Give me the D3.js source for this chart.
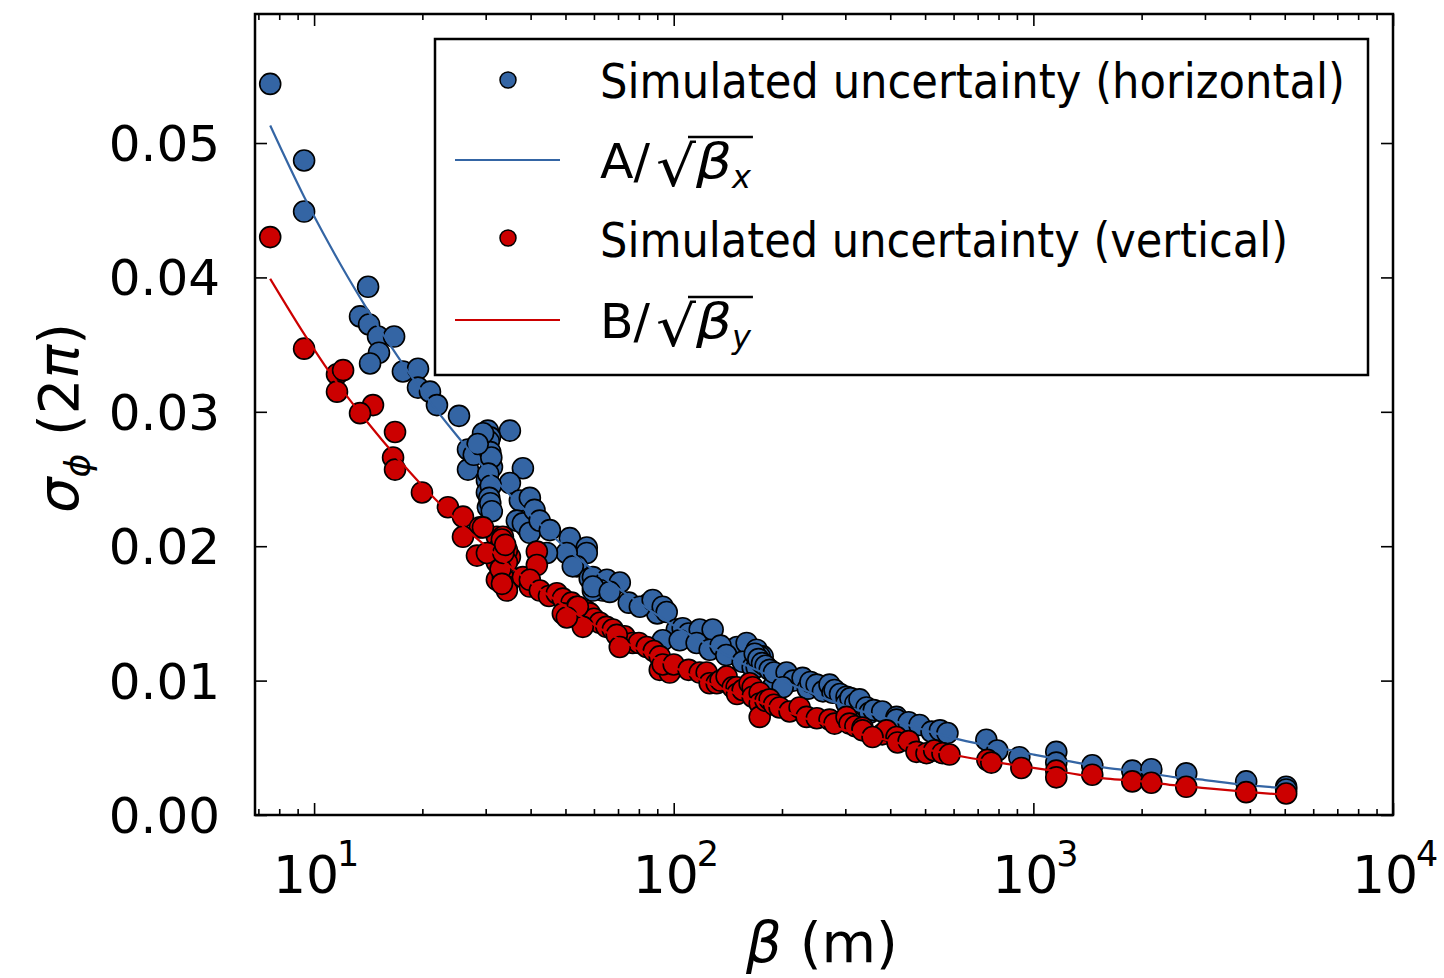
<!DOCTYPE html>
<html>
<head>
<meta charset="utf-8">
<script src="https://cdn.jsdelivr.net/npm/d3@7"></script>
<style>
  html, body { margin: 0; padding: 0; background: #fff; }
  svg { display: block; }
  text { font-family: "DejaVu Sans", sans-serif; fill: #000; }
</style>
</head>
<body>
<svg id="chart" width="1444" height="978"></svg>
<script>
// ---------------- data ----------------
const blueBeta = [7.55,9.38,9.38,14.13,13.42,14.22,15.06,16.69,15.15,14.31,17.66,19.45,19.45,21.0,21.96,25.29,30.43,35.03,26.79,30.24,30.83,30.83,26.79,31.23,38.07,30.24,35.03,30.24,30.43,37.34,36.63,39.06,27.8,30.6,30.9,31.1,30.5,31.0,30.7,30.9,31.2,29.5,28.5,39.81,38.07,39.81,41.0,42.4,45.24,51.4,57.3,57.3,50.4,44.4,53.8,52.4,58.4,59.6,65.2,70.8,63.5,59.6,59.6,66.4,75,85,90,80.5,87.4,93.2,95.6,102,93.2,105.9,110,120,118.1,128.3,103.9,115.8,125.9,143.1,145.9,150,135,140,159.5,155.5,170.1,176.7,173.4,165.8,170.1,168,172,176,180,184.8,188.4,190,206,215,228.2,200.9,236,240,249.6,260,271.2,276.5,280,290,302.4,302.4,310,320,328.6,343.6,350.3,360,380,416.4,416.4,450,482.5,521.1,550,576.9,740,794,914,1158,1158,1458,1884,2128,2661,3906,5046,5046];
const blueSigma = [0.0544,0.0487,0.0449,0.0393,0.0371,0.0365,0.0356,0.0356,0.0344,0.0336,0.0330,0.0332,0.0318,0.0315,0.0305,0.0297,0.0286,0.0286,0.0272,0.0274,0.0281,0.0264,0.0257,0.0259,0.0258,0.0249,0.0247,0.0240,0.0229,0.0234,0.0219,0.0214,0.0268,0.0278,0.0270,0.0266,0.0254,0.0245,0.0236,0.0232,0.0226,0.0284,0.0276,0.0236,0.0217,0.0210,0.0227,0.0219,0.0212,0.0206,0.0199,0.0195,0.0195,0.0195,0.0185,0.0185,0.0176,0.0177,0.0175,0.0173,0.0167,0.0167,0.0170,0.0166,0.0158,0.0157,0.0150,0.0155,0.0160,0.0155,0.0151,0.0138,0.0130,0.0139,0.0135,0.0133,0.0138,0.0138,0.0130,0.0128,0.0123,0.0123,0.0123,0.0125,0.0126,0.0119,0.0128,0.0114,0.0123,0.0118,0.0118,0.0110,0.0110,0.0120,0.0116,0.0113,0.0111,0.0108,0.0095,0.0106,0.0106,0.0100,0.0102,0.0095,0.0094,0.0099,0.0097,0.0092,0.0097,0.0091,0.0093,0.0090,0.0088,0.0083,0.0087,0.0083,0.0086,0.0080,0.0076,0.0078,0.0077,0.0073,0.0071,0.0069,0.0067,0.0062,0.0063,0.0061,0.0056,0.0048,0.0043,0.0047,0.0039,0.0037,0.0033,0.0034,0.0031,0.0025,0.0021,0.0019];

const redBeta = [7.55,9.38,11.58,12.04,11.58,14.58,13.42,16.79,16.58,16.79,19.95,23.56,25.94,28.92,25.94,28.37,32.23,32.23,32.23,33.50,33.50,32.86,35.03,34.36,38.07,39.81,29.48,33.28,34.36,30.24,34.36,34.36,33.0,33.6,34.0,33.3,41.63,41.63,39.81,42.44,45,47.32,49.17,52,53.79,49.17,57,58.44,60,62.30,55.87,65,67.70,73,76.91,80,84.14,88,54.12,50.44,69.45,70.79,91.44,91.44,97.47,93.2,100,110,118.1,123.5,125.9,131.7,135,140.3,145.9,149.6,150,155.5,162.6,165.8,165.8,173.4,173.4,173.4,180,184.8,190,197.0,210,223.9,234.1,250,271.2,280,302.4,308.3,320,335.0,335.0,380,390.6,357.1,416.4,419.1,450,473.2,504.6,530,558.8,584.5,745,764,926,1158,1158,1458,1884,2128,2661,3906,5046];
const redSigma = [0.0430,0.0347,0.0328,0.0331,0.0315,0.0305,0.0299,0.0285,0.0266,0.0257,0.0240,0.0229,0.0222,0.0214,0.0207,0.0193,0.0207,0.0188,0.0175,0.0207,0.0177,0.0199,0.0192,0.0170,0.0177,0.0170,0.0214,0.0205,0.0197,0.0195,0.0188,0.0167,0.0183,0.0195,0.0201,0.0172,0.0196,0.0186,0.0175,0.0167,0.0163,0.0165,0.0161,0.0158,0.0155,0.0150,0.0152,0.0150,0.0146,0.0143,0.0140,0.0140,0.0138,0.0133,0.0128,0.0128,0.0125,0.0122,0.0155,0.0147,0.0134,0.0125,0.0118,0.0108,0.0106,0.0112,0.0112,0.0108,0.0106,0.0106,0.0098,0.0098,0.0100,0.0103,0.0095,0.0095,0.0090,0.0093,0.0098,0.0095,0.0088,0.0091,0.0083,0.0073,0.0085,0.0086,0.0082,0.0080,0.0077,0.0080,0.0073,0.0072,0.0071,0.0068,0.0073,0.0068,0.0066,0.0065,0.0063,0.0060,0.0063,0.0058,0.0058,0.0054,0.0055,0.0047,0.0046,0.0048,0.0046,0.0045,0.0041,0.0039,0.0035,0.0033,0.0028,0.0030,0.0025,0.0024,0.0021,0.0017,0.0016];

// fit curves
const fitBeta = [7.55,9.38,11,12,14,17,20,25,30,40,50,65,80,100,120,160,200,250,300,400,500,650,800,1000,1200,1600,2000,2500,3000,4000,5046];
const fitBlue = [0.0513,0.0460,0.0425,0.0407,0.0377,0.0342,0.0315,0.0282,0.0257,0.0223,0.0199,0.0175,0.0158,0.0141,0.0129,0.0111,0.0100,0.0089,0.0081,0.0071,0.0063,0.0055,0.0050,0.0045,0.0041,0.0035,0.0032,0.0028,0.0026,0.0022,0.0020];
const fitRed = [0.0399,0.0358,0.0330,0.0316,0.0293,0.0266,0.0245,0.0219,0.0200,0.0173,0.0155,0.0136,0.0123,0.0110,0.0100,0.0087,0.0078,0.0069,0.0063,0.0055,0.0049,0.0043,0.0039,0.0035,0.0032,0.0027,0.0025,0.0022,0.0020,0.0017,0.0015];

const yTicks = [0.00,0.01,0.02,0.03,0.04,0.05];
const yTickLabels = ["0.00","0.01","0.02","0.03","0.04","0.05"];
const xTicks = [10,100,1000,10000];
const xTickExp = ["1","2","3","4"];
const legendLabels = ["Simulated uncertainty (horizontal)","Simulated uncertainty (vertical)"];

// ---------------- layout ----------------
const BLUE = "#3465a4", RED = "#cc0000";
const L = 255, R = 1393, T = 14, B = 815;
const svg = d3.select("#chart");
const x = d3.scaleLog().domain([6.85, 10000]).range([L, R]);
const y = d3.scaleLinear().domain([0, 0.0596]).range([B, T]);

const plot = svg.append("g");
plot.append("clipPath").attr("id","clip").append("rect")
  .attr("x",L).attr("y",T).attr("width",R-L).attr("height",B-T);

const blue = blueBeta.map((b,i)=>({b, s: blueSigma[i]}));
const red = redBeta.map((b,i)=>({b, s: redSigma[i]}));
const fb = fitBeta.map((b,i)=>({b, s: fitBlue[i]}));
const fr = fitBeta.map((b,i)=>({b, s: fitRed[i]}));
const line = d3.line().x(d=>x(d.b)).y(d=>y(d.s)).curve(d3.curveMonotoneX);

const g = plot.append("g").attr("clip-path","url(#clip)");
function dots(data, color){
  g.append("g").selectAll("circle").data(data).join("circle")
    .attr("cx", d=>x(d.b)).attr("cy", d=>y(d.s)).attr("r", 10.5)
    .attr("fill", color).attr("stroke","#000").attr("stroke-width",1.6);
}
dots(blue, BLUE);
g.append("path").datum(fb).attr("d", line).attr("fill","none").attr("stroke",BLUE).attr("stroke-width",2.2);
dots(red, RED);
g.append("path").datum(fr).attr("d", line).attr("fill","none").attr("stroke",RED).attr("stroke-width",2.2);

// ---------------- axes ----------------
const MAJ = 12, MIN = 6;
const axB = d3.axisBottom(x).tickValues(xTicks).tickSize(-MAJ).tickFormat("");
const axT = d3.axisTop(x).tickValues(xTicks).tickSize(-MAJ).tickFormat("");
const minors = [];
for (let e=0;e<4;e++) for (let m=2;m<=9;m++){ const v=m*Math.pow(10,e); if (v>6.85 && v<10000) minors.push(v); }
const axBm = d3.axisBottom(x).tickValues(minors).tickSize(-MIN).tickFormat("");
const axTm = d3.axisTop(x).tickValues(minors).tickSize(-MIN).tickFormat("");
const axL = d3.axisLeft(y).tickValues(yTicks).tickSize(-MAJ).tickFormat("");
const axR = d3.axisRight(y).tickValues(yTicks).tickSize(-MAJ).tickFormat("");
function addAxis(ax, tr){
  const a = svg.append("g").attr("transform", tr).call(ax);
  a.select(".domain").remove();
  a.selectAll("line").attr("stroke","#000").attr("stroke-width",1.6);
}
addAxis(axB, `translate(0,${B})`);
addAxis(axBm, `translate(0,${B})`);
addAxis(axT, `translate(0,${T})`);
addAxis(axTm, `translate(0,${T})`);
addAxis(axL, `translate(${L},0)`);
addAxis(axR, `translate(${R},0)`);
svg.append("rect").attr("x",L).attr("y",T).attr("width",R-L).attr("height",B-T)
  .attr("fill","none").attr("stroke","#000").attr("stroke-width",2.5);

// y tick labels
svg.append("g").selectAll("text").data(yTicks).join("text")
  .attr("x", 220).attr("y", d=>y(d)).attr("dy","0.36em")
  .attr("text-anchor","end").attr("font-size",50)
  .text((d,i)=>yTickLabels[i]);

// x tick labels 10^n
const xl = svg.append("g").selectAll("g").data(xTicks).join("g")
  .attr("transform", d=>`translate(${x(d)},893)`);
xl.append("text").attr("x",-8).attr("text-anchor","middle").attr("font-size",52).text("10");
xl.append("text").attr("x",23).attr("y",-27).attr("text-anchor","start").attr("font-size",35).text((d,i)=>xTickExp[i]);

// x axis label
const xlab = svg.append("text").attr("x", 822).attr("y", 962).attr("text-anchor","middle").attr("font-size",56);
xlab.append("tspan").attr("font-style","italic").text("β");
xlab.append("tspan").text(" (m)");

// y axis label
const ylab = svg.append("text").attr("transform","translate(78,418) rotate(-90)")
  .attr("text-anchor","middle").attr("font-size",56);
ylab.append("tspan").attr("font-style","italic").text("σ");
ylab.append("tspan").attr("font-style","italic").attr("font-size",36).attr("dy",12).text("ϕ");
ylab.append("tspan").attr("dy",-12).text(" (2");
ylab.append("tspan").attr("font-style","italic").text("π");
ylab.append("tspan").text(")");

// ---------------- legend ----------------
const lg = svg.append("g");
lg.append("rect").attr("x",435).attr("y",39).attr("width",933).attr("height",336)
  .attr("fill","#fff").attr("stroke","#000").attr("stroke-width",2.5);
const rowY = [80, 160, 238, 320];
lg.append("circle").attr("cx",508).attr("cy",rowY[0]).attr("r",8).attr("fill",BLUE).attr("stroke","#000").attr("stroke-width",1.5);
lg.append("circle").attr("cx",508).attr("cy",rowY[2]).attr("r",8).attr("fill",RED).attr("stroke","#000").attr("stroke-width",1.5);
lg.append("line").attr("x1",455).attr("x2",560).attr("y1",rowY[1]).attr("y2",rowY[1]).attr("stroke",BLUE).attr("stroke-width",2.2);
lg.append("line").attr("x1",455).attr("x2",560).attr("y1",rowY[3]).attr("y2",rowY[3]).attr("stroke",RED).attr("stroke-width",2.2);
lg.append("text").attr("x",600).attr("y",98).attr("font-size",48)
  .attr("textLength",745).attr("lengthAdjust","spacingAndGlyphs").text(legendLabels[0]);
lg.append("text").attr("x",600).attr("y",257).attr("font-size",48)
  .attr("textLength",688).attr("lengthAdjust","spacingAndGlyphs").text(legendLabels[1]);

function mathLabel(lead, sub, baseY){
  const gg = lg.append("g");
  let cx = 600;
  gg.append("text").attr("x",cx).attr("y",baseY).attr("font-size",48)
    .attr("textLength",50).attr("lengthAdjust","spacingAndGlyphs").text(lead + "/");
  cx += 56;
  gg.append("text").attr("x",cx).attr("y",baseY+8).attr("font-size",56)
    .attr("textLength",40).attr("lengthAdjust","spacingAndGlyphs").text("√");
  const sqrtX = cx + 32;
  cx += 40;
  gg.append("text").attr("x",cx).attr("y",baseY).attr("font-size",48).attr("font-style","italic")
    .attr("textLength",36).attr("lengthAdjust","spacingAndGlyphs").text("β");
  cx += 36;
  const t4 = gg.append("text").attr("x",cx).attr("y",baseY+10).attr("font-size",32).attr("font-style","italic").text(sub);
  const w4 = t4.node().getComputedTextLength();
  gg.append("line").attr("x1",sqrtX).attr("x2",cx + w4 + 2).attr("y1",baseY-41).attr("y2",baseY-41)
    .attr("stroke","#000").attr("stroke-width",2.4);
}
mathLabel("A", "x", 178);
mathLabel("B", "y", 338);
</script>
</body>
</html>
